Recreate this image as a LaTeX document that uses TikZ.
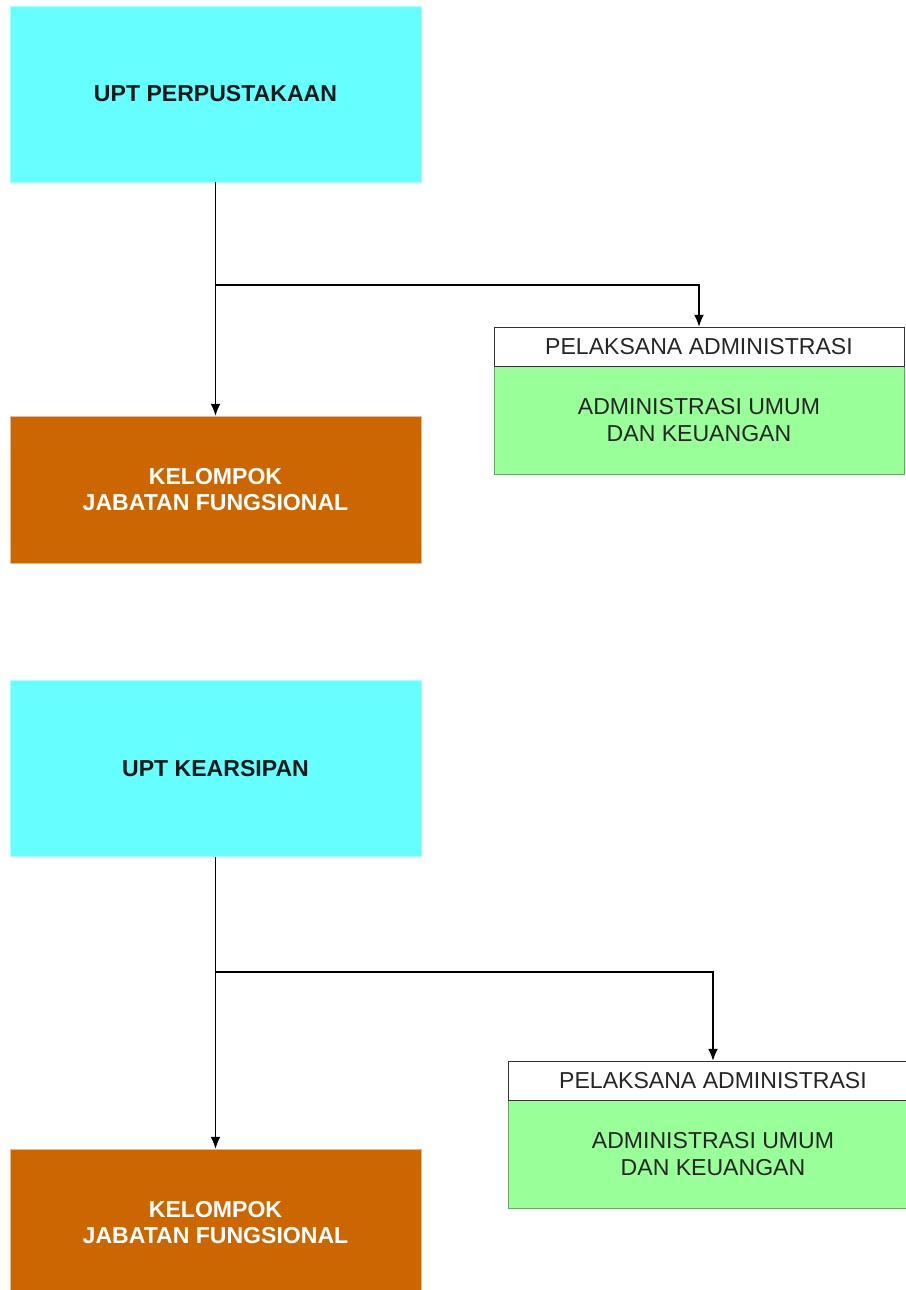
\documentclass[tikz,border=0pt]{standalone}
\usepackage{fontspec}
\setmainfont{Liberation Sans}
\usetikzlibrary{arrows.meta}
\definecolor{uptcyan}{HTML}{66FFFF}
\definecolor{jfbrown}{HTML}{CC6600}
\definecolor{admgreen}{HTML}{99FF99}
\definecolor{admline}{HTML}{6AA66A}
\newcommand{\boxfont}{\fontsize{16.4}{18.8}\selectfont}
\tikzset{
  upt/.style={draw=uptcyan!55!white, fill=uptcyan, minimum width=10.275cm, minimum height=4.4cm, font=\boxfont\bfseries, text=black!90},
  kelompok/.style={draw=jfbrown!45!white, fill=jfbrown, minimum width=10.275cm, minimum height=3.675cm, font=\boxfont\bfseries, text=white, align=center},
  pelhead/.style={draw=black!80, fill=white, minimum width=10.25cm, minimum height=0.975cm, font=\boxfont, text=black!85},
  adm/.style={draw=admline, fill=admgreen, minimum width=10.25cm, minimum height=2.7cm, font=\boxfont, text=black!85, align=center},
  link/.style={line width=0.8pt, -{Latex[length=8.5pt,width=7pt]}}
}

\begin{document}
\begin{tikzpicture}[x=0.025cm,y=-0.025cm]
\useasboundingbox (0,0) rectangle (906,1290);

% UPT Perpustakaan
\begin{scope}
\node[upt] (upt1) at (215.5,94) {UPT PERPUSTAKAAN};
\node[kelompok] (kelompok1) at (215.5,489.5) {KELOMPOK\\JABATAN FUNGSIONAL};
\node[adm] (admin1) at (699,420) {ADMINISTRASI UMUM\\DAN KEUANGAN};
\node[pelhead] (pelaksana1) at (699,346.5) {PELAKSANA ADMINISTRASI};
\coordinate (split1) at (216,285);
\draw[link] (upt1) -- (kelompok1);
\draw[link] (split1) -| (pelaksana1);
\end{scope}

% UPT Kearsipan
\begin{scope}
\node[upt] (upt2) at (215.5,768.5) {UPT KEARSIPAN};
\node[kelompok] (kelompok2) at (215.5,1222.5) {KELOMPOK\\JABATAN FUNGSIONAL};
\node[adm] (admin2) at (713,1154) {ADMINISTRASI UMUM\\DAN KEUANGAN};
\node[pelhead] (pelaksana2) at (713,1080.5) {PELAKSANA ADMINISTRASI};
\coordinate (split2) at (216,972);
\draw[link] (upt2) -- (kelompok2);
\draw[link] (split2) -| (pelaksana2);
\end{scope}
\end{tikzpicture}
\end{document}
